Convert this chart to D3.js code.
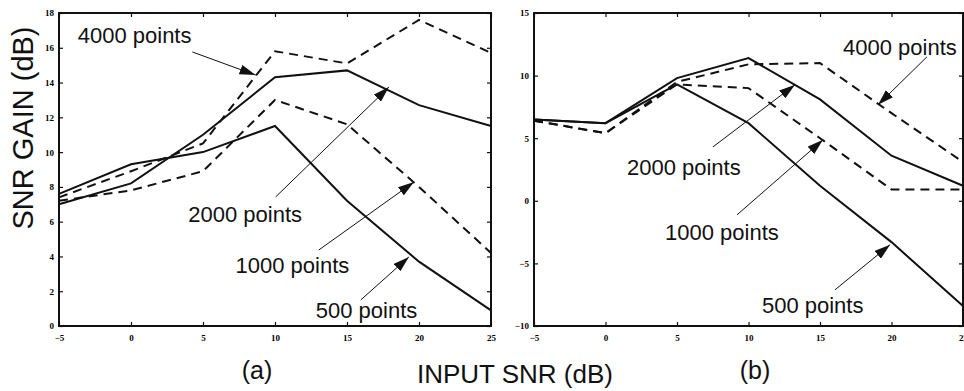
<!DOCTYPE html>
<html>
<head>
<meta charset="utf-8">
<script src="https://cdn.jsdelivr.net/npm/d3@7"></script>
<style>
  body { margin: 0; background: #fff; }
  svg { display: block; }
  .tick text { font-family: "Liberation Serif", serif; font-weight: bold; font-size: 9px; }
  .lbl { font-family: "Liberation Sans", Arial, sans-serif; fill: #111; }
</style>
</head>
<body>
<svg id="chart" width="964" height="391"></svg>
<script>
// input SNR values (x) shared by both panels
const inputSnr = [-5, 0, 5, 10, 15, 20, 25];

// panel (a) - snr gain
const gainA500  = [7.6, 9.3, 10.0, 11.5, 7.2, 3.7, 0.9];
const gainA1000 = [7.2, 7.8, 8.9, 13.0, 11.6, 8.0, 4.2];
const gainA2000 = [7.0, 8.2, 11.0, 14.3, 14.7, 12.7, 11.5];
const gainA4000 = [7.4, 8.9, 10.5, 15.8, 15.1, 17.6, 15.7];

// panel (b)
const gainB500  = [6.5, 6.2, 9.3, 6.2, 1.2, -3.3, -8.4];
const gainB1000 = [6.4, 5.4, 9.3, 9.0, 5.0, 0.9, 0.9];
const gainB2000 = [6.5, 6.2, 9.8, 11.4, 8.1, 3.6, 1.2];
const gainB4000 = [6.4, 5.4, 9.5, 10.9, 11.0, 7.0, 3.1];

const yTicksA = [0, 2, 4, 6, 8, 10, 12, 14, 16, 18];
const yTicksB = [-10, -5, 0, 5, 10, 15];

// annotation text + arrow (tail -> tip), in data units
const notesA = [
  {text: "4000 points", tx: -3.7, ty: 16.27, x1: 4.26, y1: 15.76, x2: 8.65, y2: 14.43},
  {text: "2000 points", tx: 3.98, ty: 5.98, x1: 10.04, y1: 7.42, x2: 17.91, y2: 13.74},
  {text: "1000 points", tx: 7.26, ty: 3.05, x1: 13.04, y1: 4.37, x2: 19.65, y2: 8.28},
  {text: "500 points", tx: 12.83, ty: 0.46, x1: 15.96, y1: 1.5, x2: 19.3, y2: 3.97}
];
const notesB = [
  {text: "4000 points", tx: 16.61, ty: 11.66, x1: 22.48, y1: 11.5, x2: 19.06, y2: 7.67},
  {text: "2000 points", tx: 1.5, ty: 2.08, x1: 7.52, y1: 4.31, x2: 13.25, y2: 9.27},
  {text: "1000 points", tx: 4.16, ty: -3.12, x1: 9.2, y1: -1.12, x2: 15.21, y2: 4.87},
  {text: "500 points", tx: 10.94, ty: -8.95, x1: 16.05, y1: -7.11, x2: 19.9, y2: -3.51}
];

const svg = d3.select("#chart");

svg.append("defs").append("marker")
    .attr("id", "head")
    .attr("viewBox", "0 -5 16 10")
    .attr("refX", 16)
    .attr("refY", 0)
    .attr("markerUnits", "userSpaceOnUse")
    .attr("markerWidth", 16)
    .attr("markerHeight", 10)
    .attr("orient", "auto")
  .append("path")
    .attr("d", "M0,-5L16,0L0,5Z")
    .attr("fill", "#111");

// window.top exists already, so use other names
const plotTop = 13, plotBottom = 326;

function panel(left, right, yDomain, yTicks, series, notes) {
  const x = d3.scaleLinear().domain([-5, 25]).range([left, right]);
  const y = d3.scaleLinear().domain(yDomain).range([plotBottom, plotTop]);
  const g = svg.append("g");

  // axes, ticks pointing inward like matlab
  g.append("g").attr("transform", "translate(0," + plotBottom + ")")
    .call(d3.axisBottom(x).tickValues(inputSnr).tickSizeInner(-4).tickSizeOuter(0).tickPadding(9));
  g.append("g").attr("transform", "translate(0," + plotTop + ")")
    .call(d3.axisTop(x).tickValues(inputSnr).tickSizeInner(-4).tickSizeOuter(0).tickFormat(""));
  g.append("g").attr("transform", "translate(" + left + ",0)")
    .call(d3.axisLeft(y).tickValues(yTicks).tickSizeInner(-4).tickSizeOuter(0).tickPadding(5));
  g.append("g").attr("transform", "translate(" + right + ",0)")
    .call(d3.axisRight(y).tickValues(yTicks).tickSizeInner(-4).tickSizeOuter(0).tickFormat(""));
  g.selectAll(".domain").remove();
  g.selectAll(".tick line").attr("stroke", "#111").attr("stroke-width", 1.2);

  g.append("rect")
    .attr("x", left).attr("y", plotTop)
    .attr("width", right - left).attr("height", plotBottom - plotTop)
    .attr("fill", "none").attr("stroke", "#111").attr("stroke-width", 2);

  const line = d3.line().x((d, i) => x(inputSnr[i])).y(d => y(d));

  g.selectAll(".series")
    .data(series)
    .enter()
    .append("path")
      .attr("d", d => line(d.values))
      .attr("fill", "none")
      .attr("stroke", "#111")
      .attr("stroke-width", 2)
      .attr("stroke-dasharray", d => d.dashed ? "9,6" : null);

  g.selectAll(".arrow")
    .data(notes)
    .enter()
    .append("line")
      .attr("x1", d => x(d.x1)).attr("y1", d => y(d.y1))
      .attr("x2", d => x(d.x2)).attr("y2", d => y(d.y2))
      .attr("stroke", "#111").attr("stroke-width", 1)
      .attr("marker-end", "url(#head)");

  g.selectAll(".note")
    .data(notes)
    .enter()
    .append("text")
      .attr("class", "lbl")
      .attr("x", d => x(d.tx)).attr("y", d => y(d.ty))
      .attr("font-size", 22)
      .text(d => d.text);
}

panel(59, 491, [0, 18], yTicksA, [
  {values: gainA500, dashed: false},
  {values: gainA1000, dashed: true},
  {values: gainA2000, dashed: false},
  {values: gainA4000, dashed: true}
], notesA);

panel(534, 963, [-10, 15], yTicksB, [
  {values: gainB500, dashed: false},
  {values: gainB1000, dashed: true},
  {values: gainB2000, dashed: false},
  {values: gainB4000, dashed: true}
], notesB);

// axis titles and panel letters
svg.append("text").attr("class", "lbl")
  .attr("transform", "translate(33,128) rotate(-90)")
  .attr("text-anchor", "middle")
  .attr("font-size", 29)
  .text("SNR GAIN (dB)");

svg.append("text").attr("class", "lbl")
  .attr("x", 515).attr("y", 383)
  .attr("text-anchor", "middle")
  .attr("font-size", 26)
  .text("INPUT SNR (dB)");

svg.append("text").attr("class", "lbl")
  .attr("x", 257).attr("y", 379)
  .attr("text-anchor", "middle")
  .attr("font-size", 25)
  .text("(a)");

svg.append("text").attr("class", "lbl")
  .attr("x", 755).attr("y", 379)
  .attr("text-anchor", "middle")
  .attr("font-size", 25)
  .text("(b)");
</script>
</body>
</html>
